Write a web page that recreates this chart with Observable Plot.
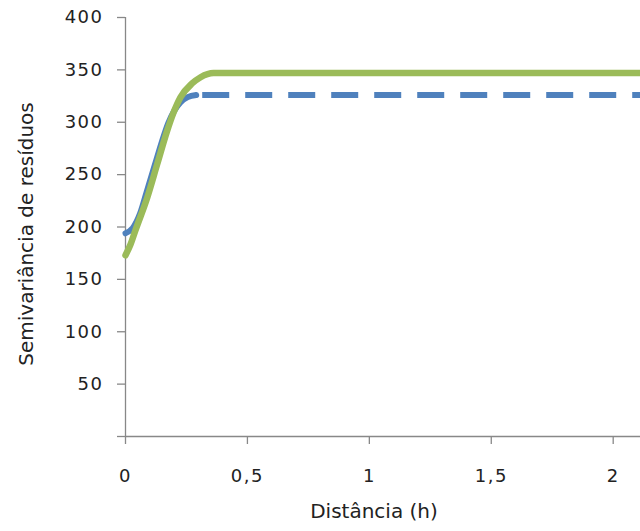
<!DOCTYPE html>
<html>
<head>
<meta charset="utf-8">
<script src="https://cdn.jsdelivr.net/npm/d3@7"></script>
<script src="https://cdn.jsdelivr.net/npm/@observablehq/plot@0.6"></script>
<style>
  html, body { margin: 0; padding: 0; background: #fff; }
  g[aria-label="x-axis tick"], g[aria-label="y-axis tick"] { stroke: #888; stroke-width: 1.3; }
  g[aria-label="x-axis tick label"], g[aria-label="y-axis tick label"] { fill: #222; letter-spacing: 1.5px; }
</style>
</head>
<body>
<div id="chart"></div>
<script>
// Tick values and labels
const xTicks = [0, 0.5, 1, 1.5, 2];
const xTickLabels = ["0", "0,5", "1", "1,5", "2"];
const yTicks = [0, 50, 100, 150, 200, 250, 300, 350, 400];
const yTickLabels = ["", "50", "100", "150", "200", "250", "300", "350", "400"];

// Series
const blueX = [0, 0.03, 0.06, 0.09, 0.12, 0.15, 0.175, 0.2, 0.225, 0.255, 0.29, 2.112];
const blueY = [194, 199, 213, 236, 259, 282, 299, 311, 319, 324, 326, 326];
const greenX = [0, 0.02, 0.041, 0.089, 0.13, 0.171, 0.195, 0.226, 0.273, 0.308, 0.361, 2.112];
const greenY = [173, 183, 197, 228, 260, 292, 308, 324, 337, 343, 347, 347];

const xTitle = "Distância (h)";
const yTitle = "Semivariância de resíduos";

const blue = blueX.map((x, i) => ({x, y: blueY[i]}));
const green = greenX.map((x, i) => ({x, y: greenY[i]}));
const blueSolid = blue.filter(d => d.x <= 0.29);
const blueDashed = blue.filter(d => d.x >= 0.29);

const chart = Plot.plot({
  width: 640,
  height: 531,
  marginLeft: 125,
  marginRight: 0,
  marginTop: 17,
  marginBottom: 95,
  x: {domain: [0, 2.112]},
  y: {domain: [0, 400]},
  style: {fontFamily: "DejaVu Sans", fontSize: "18px", background: "white", overflow: "visible", color: "#222"},
  marks: [
    Plot.ruleX([0], {stroke: "#888", strokeWidth: 1.3}),
    Plot.ruleY([0], {stroke: "#888", strokeWidth: 1.3}),
    Plot.axisX({ticks: xTicks, tickFormat: d => xTickLabels[xTicks.indexOf(d)], tickSize: 8, tickPadding: 25, label: null}),
    Plot.axisY({ticks: yTicks, tickFormat: d => yTickLabels[yTicks.indexOf(d)], tickSize: 8, tickPadding: 14, label: null}),
    Plot.line(blueSolid, {x: "x", y: "y", stroke: "#4f81bd", strokeWidth: 6, curve: "monotone-x", strokeLinecap: "round"}),
    Plot.line(blueDashed, {x: "x", y: "y", stroke: "#4f81bd", strokeWidth: 6, strokeDasharray: "27,16", strokeDashoffset: 37, strokeLinecap: "butt"}),
    Plot.line(green, {x: "x", y: "y", stroke: "#9bbb59", strokeWidth: 6.5, curve: "monotone-x", strokeLinecap: "round"}),
    Plot.text([yTitle], {frameAnchor: "left", textAnchor: "middle", dx: -99, dy: 7, rotate: -90, fontSize: 20, fill: "#222"}),
    Plot.text([xTitle], {frameAnchor: "bottom", dx: -9, dy: 81, fontSize: 20, fill: "#222"})
  ]
});
document.getElementById("chart").appendChild(chart);
</script>
</body>
</html>
